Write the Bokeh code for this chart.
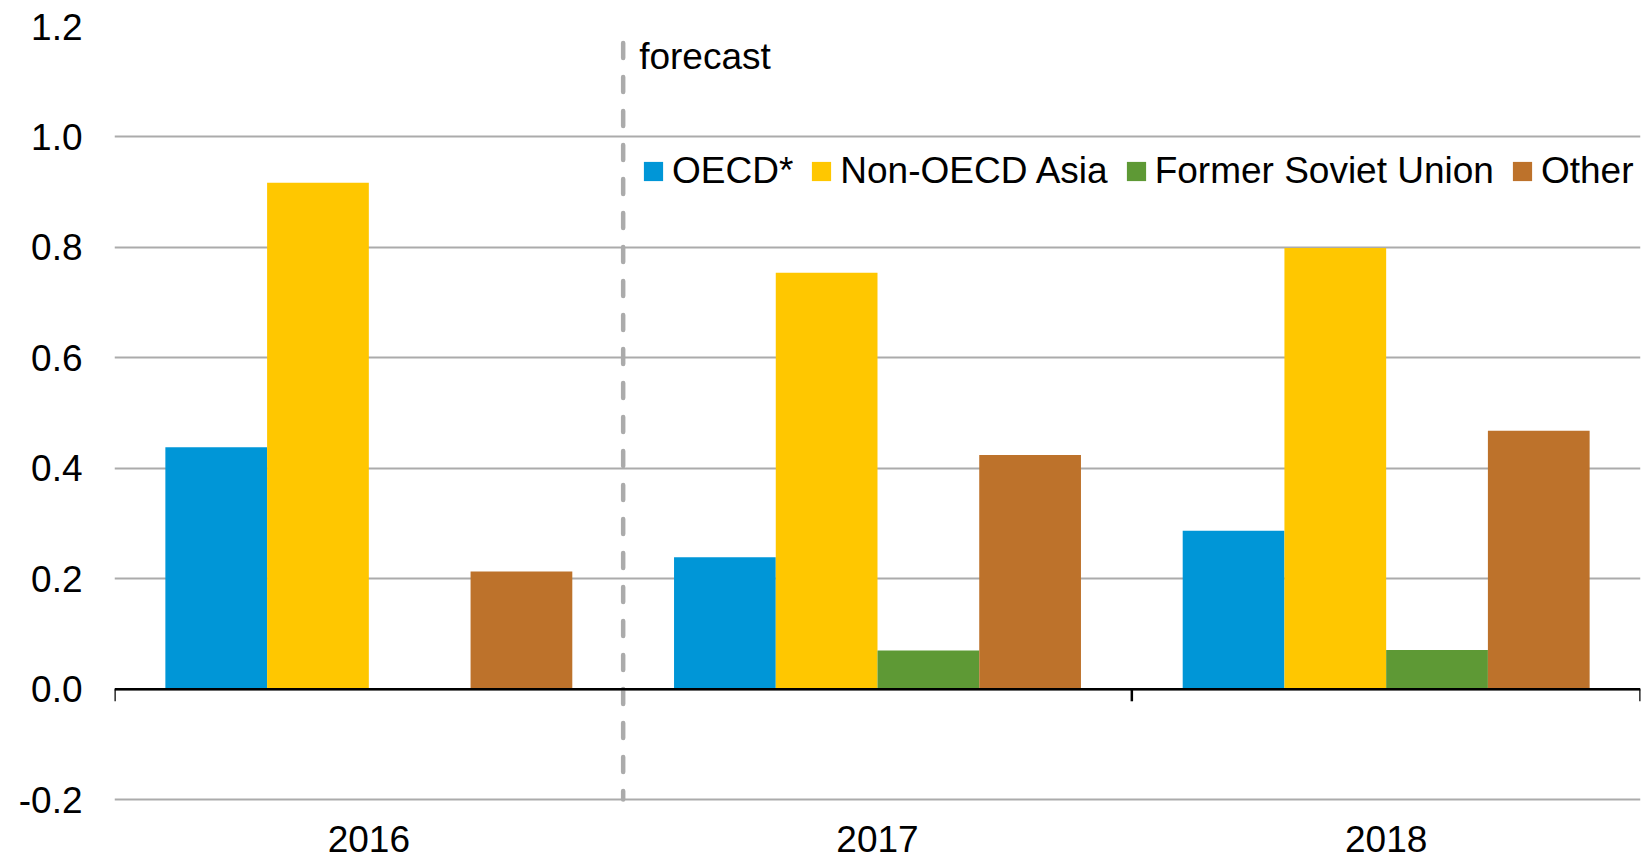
from bokeh.plotting import figure
from bokeh.models import (ColumnDataSource, FactorRange, Range1d, FixedTicker,
                          PrintfTickFormatter, Legend, LegendItem, Span, Label, LabelSet)
from bokeh.core.properties import value
from bokeh.transform import dodge
from bokeh.embed import file_html
from bokeh.resources import INLINE

# Annual change by region (values in mb/d)
years = ["2016", "2017", "2018"]
oecd = [0.438, 0.239, 0.287]
non_oecd_asia = [0.917, 0.754, 0.799]
former_soviet_union = [0.0, 0.070, 0.071]
other = [0.213, 0.424, 0.468]

series_names = ["OECD*", "Non-OECD Asia", "Former Soviet Union", "Other"]
series_colors = ["#0096D7", "#FFC700", "#5E9935", "#BD722B"]
y_ticks = [-0.2, 0.0, 0.2, 0.4, 0.6, 0.8, 1.0, 1.2]
forecast_start = "2017"

FONT = "Liberation Sans"
FONT_SIZE = "37px"

source = ColumnDataSource(dict(
    year=years,
    oecd=oecd,
    non_oecd_asia=non_oecd_asia,
    former_soviet_union=former_soviet_union,
    other=other,
))

# the plot area reaches below the lowest gridline so the
# category labels can sit under it
p = figure(
    x_range=FactorRange(*years, range_padding=0),
    y_range=Range1d(-0.3085, y_ticks[-1]),
    width=1648, height=859,
    output_backend="svg", toolbar_location=None,
    min_border_left=114, min_border_right=8,
    min_border_top=26, min_border_bottom=0,
)
p.outline_line_color = None
p.background_fill_color = "white"
p.border_fill_color = "white"

# grid
p.xgrid.grid_line_color = None
p.ygrid.grid_line_color = "#ABABAB"
p.ygrid.grid_line_width = 2

# y axis
p.yaxis.ticker = FixedTicker(ticks=y_ticks)
p.yaxis.formatter = PrintfTickFormatter(format="%.1f")
p.yaxis.axis_line_color = None
p.yaxis.major_tick_line_color = None
p.yaxis.minor_tick_line_color = None
p.yaxis.major_tick_in = 0
p.yaxis.major_tick_out = 0
p.yaxis.major_label_standoff = 32
p.yaxis.major_label_text_font = FONT
p.yaxis.major_label_text_font_size = FONT_SIZE
p.yaxis.major_label_text_color = "black"

# category labels under the lowest gridline
p.xaxis.visible = False
p.add_layout(LabelSet(x="year", y=y_ticks[0], y_offset=-52, text="year",
                      source=source, text_align="center",
                      text_baseline="alphabetic", text_font=value(FONT),
                      text_font_size=value(FONT_SIZE), text_color="black"))

# grouped bars
columns = ["oecd", "non_oecd_asia", "former_soviet_union", "other"]
bar_width = 0.2
offsets = [(i - (len(columns) - 1) / 2) * bar_width for i in range(len(columns))]
renderers = []
for col, off, color in zip(columns, offsets, series_colors):
    r = p.vbar(x=dodge("year", off, range=p.x_range), top=col, bottom=0,
               width=bar_width, source=source,
               fill_color=color, line_color=None)
    renderers.append(r)

# zero line with category boundary ticks
p.add_layout(Span(location=0, dimension="width", line_color="black", line_width=2.5))
boundaries = list(range(len(years) + 1))
p.segment(x0=boundaries, x1=boundaries, y0=[0] * len(boundaries),
          y1=[-0.022] * len(boundaries), line_color="black", line_width=2.5)

# forecast divider
fx = years.index(forecast_start)
p.segment(x0=[fx], x1=[fx], y0=[1.17], y1=[y_ticks[0]],
          line_color="#ABABAB", line_width=4.5, line_cap="round",
          line_dash="15 19")
p.add_layout(Label(x=fx, y=1.145, x_offset=16, text="forecast",
                   text_font=FONT, text_font_size=FONT_SIZE,
                   text_color="black", text_baseline="alphabetic"))

legend = Legend(
    items=[LegendItem(label=n, renderers=[r]) for n, r in zip(series_names, renderers)],
    orientation="horizontal",
    location=(527, 667),
    glyph_width=24, glyph_height=24,
    label_standoff=7, spacing=16,
    padding=0, margin=0,
    border_line_color=None, background_fill_alpha=0,
    label_text_font=FONT, label_text_font_size=FONT_SIZE,
    label_text_color="black",
)
p.add_layout(legend)

open("out.html", "w").write(file_html(p, INLINE))
